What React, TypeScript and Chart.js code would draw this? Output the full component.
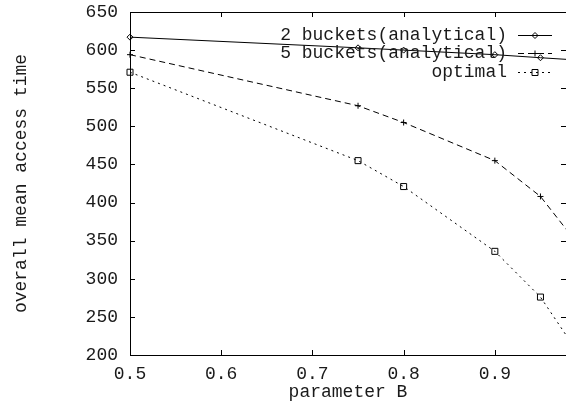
import React, { useEffect, useRef } from "react";
import { Chart, registerables } from "chart.js";
Chart.register(...registerables);

const paramB = [0.5, 0.75, 0.8, 0.9, 0.95, 0.99];
const twoBuckets = [617, 603, 600, 594, 590, 587];
const fiveBuckets = [594, 527, 505, 455, 408, 347];
const optimal = [571, 455, 421, 336, 276, 205];
const xTicks = [0.5, 0.6, 0.7, 0.8, 0.9];
const yTicks = [200, 250, 300, 350, 400, 450, 500, 550, 600, 650];
const seriesNames = ["2 buckets(analytical)", "5 buckets(analytical)", "optimal"];
const xTitle = "parameter B";
const yTitle = "overall mean access time";

const FONT = "'Liberation Mono', 'DejaVu Sans Mono', monospace";
const TEXT = "#1a1a1a";
const dashes = [[], [6, 4], [2, 4]];
const styles = ["rectRot", "cross", "rect"];

function drawMarker(ctx: CanvasRenderingContext2D, style: string, x: number, y: number) {
  ctx.save();
  ctx.setLineDash([]);
  ctx.lineWidth = 1;
  ctx.strokeStyle = "#000";
  ctx.beginPath();
  if (style === "rectRot") {
    const r = 3;
    ctx.moveTo(x, y - r);
    ctx.lineTo(x + r, y);
    ctx.lineTo(x, y + r);
    ctx.lineTo(x - r, y);
    ctx.closePath();
  } else if (style === "cross") {
    const r = 3;
    ctx.moveTo(x - r, y);
    ctx.lineTo(x + r, y);
    ctx.moveTo(x, y - r);
    ctx.lineTo(x, y + r);
  } else {
    const r = 3;
    ctx.rect(x - r, y - r, 2 * r, 2 * r);
  }
  ctx.stroke();
  ctx.restore();
}

const framePlugin = {
  id: "frame",
  afterDatasetsDraw(chart: any) {
    const { ctx, chartArea } = chart;
    const { left, right, top, bottom } = chartArea;
    const xs = chart.scales.x;
    const ys = chart.scales.y;
    ctx.save();
    ctx.strokeStyle = "#000";
    ctx.lineWidth = 1;
    ctx.setLineDash([]);
    ctx.beginPath();
    ctx.rect(Math.round(left) + 0.5, Math.round(top) + 0.5, Math.round(right - left), Math.round(bottom - top));
    const tl = 5;
    xTicks.forEach((v) => {
      const px = Math.round(xs.getPixelForValue(v)) + 0.5;
      ctx.moveTo(px, bottom);
      ctx.lineTo(px, bottom - tl);
      ctx.moveTo(px, top);
      ctx.lineTo(px, top + tl);
    });
    yTicks.forEach((v) => {
      const py = Math.round(ys.getPixelForValue(v)) + 0.5;
      ctx.moveTo(left, py);
      ctx.lineTo(left + tl, py);
      ctx.moveTo(right, py);
      ctx.lineTo(right - tl, py);
    });
    ctx.stroke();

    // key
    ctx.font = "18px " + FONT;
    ctx.fillStyle = TEXT;
    ctx.textAlign = "right";
    ctx.textBaseline = "middle";
    const rows = [35, 53, 72];
    seriesNames.forEach((name, i) => {
      const y = rows[i];
      ctx.fillText(name, 507, y);
      ctx.save();
      ctx.setLineDash(dashes[i]);
      ctx.beginPath();
      ctx.moveTo(518, y + 0.5);
      ctx.lineTo(552, y + 0.5);
      ctx.stroke();
      ctx.restore();
      drawMarker(ctx, styles[i], 535, y + 0.5);
    });
    ctx.restore();
  },
};

const markerPlugin = {
  id: "markers",
  afterDatasetsDraw(chart: any) {
    const { ctx, chartArea } = chart;
    ctx.save();
    ctx.beginPath();
    ctx.rect(chartArea.left - 4, chartArea.top - 4, chartArea.right - chartArea.left + 8, chartArea.bottom - chartArea.top + 8);
    ctx.clip();
    chart.data.datasets.forEach((ds: any, i: number) => {
      const meta = chart.getDatasetMeta(i);
      meta.data.forEach((pt: any) => {
        if (pt.x <= chartArea.right + 0.5) drawMarker(ctx, styles[i], pt.x, pt.y);
      });
    });
    ctx.restore();
  },
};

export default function App() {
  const ref = useRef<HTMLCanvasElement>(null);
  useEffect(() => {
    if (!ref.current) return;
    const mk = (vals: number[]) => paramB.map((x, i) => ({ x, y: vals[i] }));
    const series = [twoBuckets, fiveBuckets, optimal];
    const chart = new Chart(ref.current, {
      type: "line",
      data: {
        datasets: series.map((vals, i) => ({
          label: seriesNames[i],
          data: mk(vals),
          borderColor: "#000",
          borderWidth: 1,
          borderDash: dashes[i],
          pointRadius: 0,
          fill: false,
          tension: 0,
        })),
      },
      options: {
        animation: false,
        responsive: false,
        events: [],
        layout: { padding: { top: 12, right: 0, left: 0, bottom: 0 } },
        plugins: { legend: { display: false }, tooltip: { enabled: false } },
        scales: {
          x: {
            type: "linear",
            min: 0.5,
            max: 0.978,
            grid: { display: false, drawTicks: false },
            border: { display: false },
            afterBuildTicks: (s: any) => {
              s.ticks = xTicks.map((v) => ({ value: v }));
            },
            afterFit: (s: any) => {
              s.height = 47;
              s.paddingLeft = 0;
              s.paddingRight = 0;
            },
            ticks: {
              color: TEXT,
              font: { family: FONT, size: 18 },
              padding: 8,
              maxRotation: 0,
              autoSkip: false,
              callback: (v: any) => Number(v).toFixed(1),
            },
            title: {
              display: true,
              text: xTitle,
              color: TEXT,
              font: { family: FONT, size: 18 },
              padding: { top: 0, bottom: -1 },
            },
          },
          y: {
            min: 200,
            max: 650,
            grid: { display: false, drawTicks: false },
            border: { display: false },
            afterBuildTicks: (s: any) => {
              s.ticks = yTicks.map((v) => ({ value: v }));
            },
            afterFit: (s: any) => {
              s.width = 130;
              s.paddingTop = 0;
              s.paddingBottom = 0;
            },
            ticks: {
              color: TEXT,
              font: { family: FONT, size: 18 },
              padding: 12,
              autoSkip: false,
            },
            title: {
              display: true,
              text: yTitle,
              color: TEXT,
              font: { family: FONT, size: 18 },
              padding: { top: 10, bottom: 0 },
            },
          },
        },
      },
      plugins: [markerPlugin, framePlugin],
    } as any);
    return () => chart.destroy();
  }, []);
  return (
    <div style={{ position: "fixed", left: 0, top: 0, width: 566, height: 402, background: "#fff" }}>
      <canvas ref={ref} width={566} height={402} style={{ width: 566, height: 402 }} />
    </div>
  );
}
